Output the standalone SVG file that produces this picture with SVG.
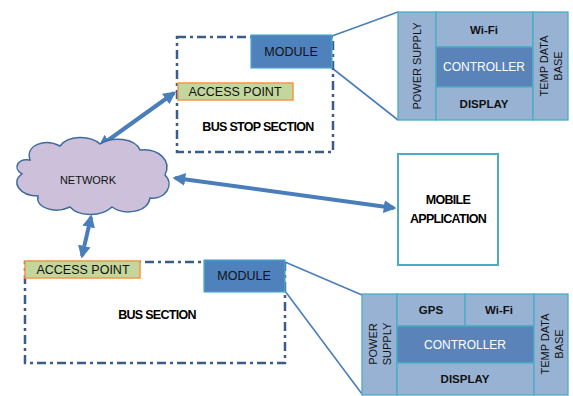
<svg xmlns="http://www.w3.org/2000/svg" width="573" height="396" viewBox="0 0 573 396">
<defs>
<style>
.t{font-family:"Liberation Sans",Arial,sans-serif;font-size:11px;fill:#111;text-anchor:middle;dominant-baseline:central}
.m{font-size:12.5px}
.b{font-weight:bold;font-size:11.5px}
.tb{font-family:"Liberation Sans",Arial,sans-serif;font-size:12.5px;font-weight:bold;fill:#000;text-anchor:middle;dominant-baseline:central;letter-spacing:-0.7px}
.tw{font-family:"Liberation Sans",Arial,sans-serif;font-size:12px;fill:#fff;text-anchor:middle;dominant-baseline:central}
.sec{fill:none;stroke:#385d8a;stroke-width:2.5;stroke-dasharray:9 4 3 4}
.mod{fill:#4f81bd;stroke:#4bacc6;stroke-width:1.2}
.ap{fill:#c3d69b;stroke:#f79646;stroke-width:1.5}
.cell{fill:#98b2d4;stroke:#4bacc6;stroke-width:1.3}
.ctl{fill:#5a83b9;stroke:#4bacc6;stroke-width:1.3}
.ln{stroke:#4a7ebb;stroke-width:1.6;fill:none}
.ar{stroke:#4a7ebb;stroke-width:4;fill:none;marker-start:url(#h);marker-end:url(#h)}
</style>
<marker id="h" viewBox="0 0 10 10" refX="8" refY="5" markerWidth="3.2" markerHeight="3.2" orient="auto-start-reverse" markerUnits="strokeWidth">
<path d="M0,0 L10,5 L0,10 z" fill="#4a7ebb"/>
</marker>
</defs>

<g id="connectors">
<line class="ln" x1="332" y1="36" x2="398" y2="12"/>
<line class="ln" x1="332" y1="68" x2="398" y2="120"/>
<line class="ln" x1="285" y1="262" x2="362" y2="295"/>
<line class="ln" x1="285" y1="291" x2="362" y2="394"/>
<line class="ar" x1="174" y1="93" x2="100" y2="146"/>
<line class="ar" x1="175" y1="178" x2="394" y2="208"/>
<line class="ar" x1="91" y1="217" x2="82" y2="256"/>
</g>

<g id="network">
<path d="M30,160 C25,145 45,138 60,146 C68,135 90,135 100,144 C112,136 135,138 140,150 C158,148 172,160 165,175 C175,185 165,200 150,198 C148,212 125,216 112,207 C100,218 78,216 70,207 C55,214 35,208 38,196 C20,196 10,182 22,174 C12,168 18,158 30,160 Z" fill="#ccc0da" stroke="#3e6a9e" stroke-width="1.5"/>
<text class="t" x="88" y="180" font-size="10.5">NETWORK</text>
</g>

<g id="bus-stop-section">
<rect class="sec" x="177" y="37" width="156" height="115"/>
<text class="tb" x="258" y="127">BUS STOP SECTION</text>
</g>
<g id="module-top">
<rect class="mod" x="251" y="35" width="81" height="33"/>
<text class="t m" x="291" y="52">MODULE</text>
</g>
<g id="access-point-top">
<rect class="ap" x="178" y="83" width="115" height="17"/>
<text class="t m" x="235" y="92">ACCESS POINT</text>
</g>

<g id="panel-top">
<rect class="cell" x="398" y="12" width="38" height="108"/>
<text class="t" transform="translate(417,66) rotate(-90)">POWER SUPPLY</text>
<rect class="cell" x="436" y="12" width="97" height="35"/>
<text class="t b" x="484" y="30">Wi-Fi</text>
<rect class="ctl" x="436" y="47" width="97" height="40"/>
<text class="tw" x="484" y="67">CONTROLLER</text>
<rect class="cell" x="436" y="87" width="97" height="33"/>
<text class="t b" x="484" y="104">DISPLAY</text>
<rect class="cell" x="533" y="12" width="35" height="108"/>
<text class="t" transform="translate(544,66) rotate(-90)">TEMP DATA</text>
<text class="t" transform="translate(558,66) rotate(-90)">BASE</text>
</g>

<g id="mobile-application">
<rect x="398" y="154" width="100" height="111" fill="#fff" stroke="#4bacc6" stroke-width="2"/>
<text class="tb" x="448" y="200">MOBILE</text>
<text class="tb" x="448" y="219">APPLICATION</text>
</g>

<g id="bus-section">
<rect class="sec" x="25" y="262" width="260" height="101"/>
<text class="tb" x="157" y="315">BUS SECTION</text>
</g>
<g id="access-point-bottom">
<rect class="ap" x="25" y="261" width="115" height="17"/>
<text class="t m" x="83" y="270">ACCESS POINT</text>
</g>
<g id="module-bottom">
<rect class="mod" x="204" y="260" width="81" height="32"/>
<text class="t m" x="244" y="276">MODULE</text>
</g>

<g id="panel-bottom">
<rect class="cell" x="362" y="294" width="35" height="101"/>
<text class="t" transform="translate(373,344) rotate(-90)">POWER</text>
<text class="t" transform="translate(387,344) rotate(-90)">SUPPLY</text>
<rect class="cell" x="397" y="294" width="68" height="32"/>
<text class="t b" x="431" y="310">GPS</text>
<rect class="cell" x="465" y="294" width="69" height="32"/>
<text class="t b" x="499" y="310">Wi-Fi</text>
<rect class="ctl" x="397" y="326" width="137" height="37"/>
<text class="tw" x="465" y="345">CONTROLLER</text>
<rect class="cell" x="397" y="363" width="137" height="32"/>
<text class="t b" x="465" y="379">DISPLAY</text>
<rect class="cell" x="534" y="294" width="34" height="101"/>
<text class="t" transform="translate(545,344) rotate(-90)">TEMP DATA</text>
<text class="t" transform="translate(559,344) rotate(-90)">BASE</text>
</g>
</svg>
